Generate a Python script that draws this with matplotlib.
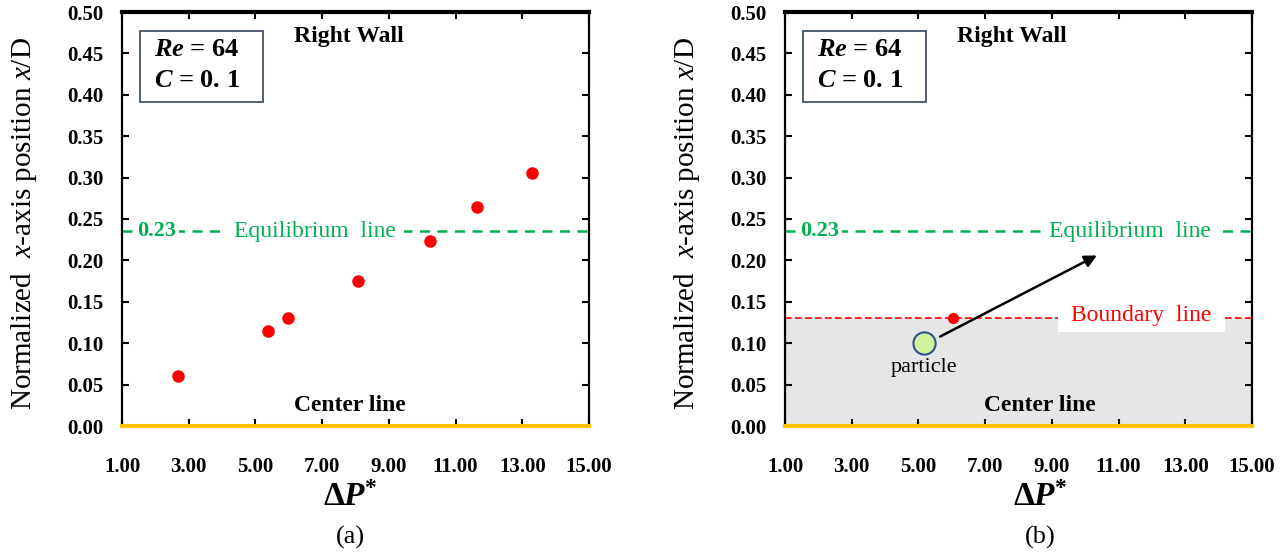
import matplotlib
matplotlib.use("Agg")
import matplotlib.pyplot as plt
from matplotlib.patches import Rectangle

# data
dp_a = [2.67, 5.39, 5.99, 8.06, 10.23, 11.63, 13.30]
xd_a = [0.060, 0.115, 0.130, 0.175, 0.224, 0.265, 0.305]
dp_b = [6.05]
xd_b = [0.130]
eq_line = 0.235          # drawn slightly above the 0.23 it is labelled with
boundary = 0.13
particle = (5.17, 0.10)
arrow_from = (5.65, 0.108)
arrow_to = (10.35, 0.206)

x_ticks = [1, 3, 5, 7, 9, 11, 13, 15]
y_ticks = [0.0, 0.05, 0.10, 0.15, 0.20, 0.25, 0.30, 0.35, 0.40, 0.45, 0.50]

plt.rcParams['font.family'] = ['Liberation Serif', 'DejaVu Serif']
plt.rcParams['mathtext.fontset'] = 'custom'
plt.rcParams['mathtext.rm'] = 'Liberation Serif:bold'
plt.rcParams['mathtext.it'] = 'Liberation Serif:italic'
plt.rcParams['mathtext.bf'] = 'Liberation Serif:bold:italic'

GREEN = '#00B050'
RED = '#FF0000'
GOLD = '#FFC000'

fig = plt.figure(figsize=(12.85, 5.54), dpi=100)
W, H = 1285, 554


def make_axes(left_px):
    ax = fig.add_axes([left_px / W, (H - 426) / H, 467 / W, 414 / H])
    ax.set_xlim(1, 15)
    ax.set_ylim(0, 0.5)
    ax.set_xticks(x_ticks)
    ax.set_xticklabels([f"{t:.2f}" for t in x_ticks], fontweight='bold', fontsize=15)
    ax.set_yticks(y_ticks)
    ax.set_yticklabels([f"{t:.2f}" for t in y_ticks], fontweight='bold', fontsize=15)
    ax.tick_params(axis='both', direction='in', length=5, width=1.5,
                   top=True, right=True)
    ax.tick_params(axis='x', pad=22)
    ax.tick_params(axis='y', pad=13)
    for s in ['left', 'right']:
        ax.spines[s].set_linewidth(1.6)
    ax.spines['top'].set_linewidth(3)
    ax.spines['bottom'].set_linewidth(3)
    ax.spines['bottom'].set_color(GOLD)
    ax.spines['bottom'].set_zorder(5)
    ax.set_ylabel('Normalized  $x$-axis position $x$/D', fontsize=21)
    ax.yaxis.set_label_coords(-0.178, 0.49)

    # Re / C box
    ax.add_patch(Rectangle((1.54, 0.391), 3.69, 0.086, fc='white',
                           ec='#44546A', lw=1.3, zorder=4))
    ax.text(1.95, 0.4545, r'$\mathbf{Re}$ = 64', fontsize=19, fontweight='bold',
            va='center', zorder=5)
    ax.text(1.95, 0.4175, r'$\mathbf{C}$ = 0. 1', fontsize=19, fontweight='bold',
            va='center', zorder=5)
    ax.text(7.8, 0.471, 'Right Wall', fontsize=17,
            fontweight='bold', ha='center', va='center')
    return ax


# ---------- (a) ----------
ax1 = make_axes(122)
l1 = ax1.axhline(eq_line, color=GREEN, lw=1.8, zorder=1)
l1.set_dashes((4, 3))
ax1.text(2.05, eq_line, '0.23', color=GREEN, fontsize=16, fontweight='bold',
         ha='center', va='center', zorder=3,
         bbox=dict(fc='white', ec='none', pad=2))
ax1.text(6.79, eq_line, 'Equilibrium  line', color=GREEN, fontsize=17,
         ha='center', va='center', zorder=3,
         bbox=dict(boxstyle='square,pad=0.35', fc='white', ec='none'))
ax1.plot(dp_a, xd_a, 'o', color=RED, ms=8, zorder=4)
ax1.text(7.83, 0.025, 'Center line', fontsize=17, fontweight='bold',
         ha='center', va='center')
fig.text(350 / W, 1 - 497 / H, r'Δ$\mathbf{P}^{*}$', fontsize=24,
         fontweight='bold', ha='center', va='center')
fig.text(350 / W, 1 - 537 / H, '(a)', fontsize=19, ha='center', va='center')

# ---------- (b) ----------
ax2 = make_axes(785)
ax2.fill_between([1, 15], 0, boundary, color='#E6E6E6', lw=0, zorder=0.5)
l2 = ax2.axhline(eq_line, color=GREEN, lw=1.8, zorder=1)
l2.set_dashes((4, 3))
ax2.text(2.05, eq_line, '0.23', color=GREEN, fontsize=16, fontweight='bold',
         ha='center', va='center', zorder=3,
         bbox=dict(fc='white', ec='none', pad=2))
ax2.text(11.34, eq_line, 'Equilibrium  line', color=GREEN, fontsize=17,
         ha='center', va='center', zorder=3,
         bbox=dict(boxstyle='square,pad=0.35', fc='white', ec='none'))
l3 = ax2.axhline(boundary, color=RED, lw=1.2, zorder=1.5)
l3.set_dashes((4, 2))
ax2.add_patch(Rectangle((9.18, 0.113), 5.0, 0.032, fc='white', ec='none',
                        zorder=2))
ax2.text(11.68, 0.133, 'Boundary  line', color=RED, fontsize=17,
         ha='center', va='center', zorder=3)
ax2.plot(dp_b, xd_b, 'o', color=RED, ms=7, zorder=4)
ax2.plot([particle[0]], [particle[1]], 'o', ms=16, mfc='#CCF59A',
         mec='#2F4F8F', mew=1.5, zorder=5)
ax2.annotate('', xy=arrow_to, xytext=arrow_from, zorder=6,
             arrowprops=dict(arrowstyle='-|>', color='black', lw=1.8,
                             mutation_scale=18, shrinkA=0, shrinkB=0))
ax2.text(particle[0], 0.071, 'particle', fontsize=16, ha='center', va='center')
ax2.text(8.64, 0.025, 'Center line', fontsize=17, fontweight='bold',
         ha='center', va='center')
fig.text(1040 / W, 1 - 497 / H, r'Δ$\mathbf{P}^{*}$', fontsize=24,
         fontweight='bold', ha='center', va='center')
fig.text(1040 / W, 1 - 537 / H, '(b)', fontsize=19, ha='center', va='center')

fig.savefig('out.png', dpi=100)
